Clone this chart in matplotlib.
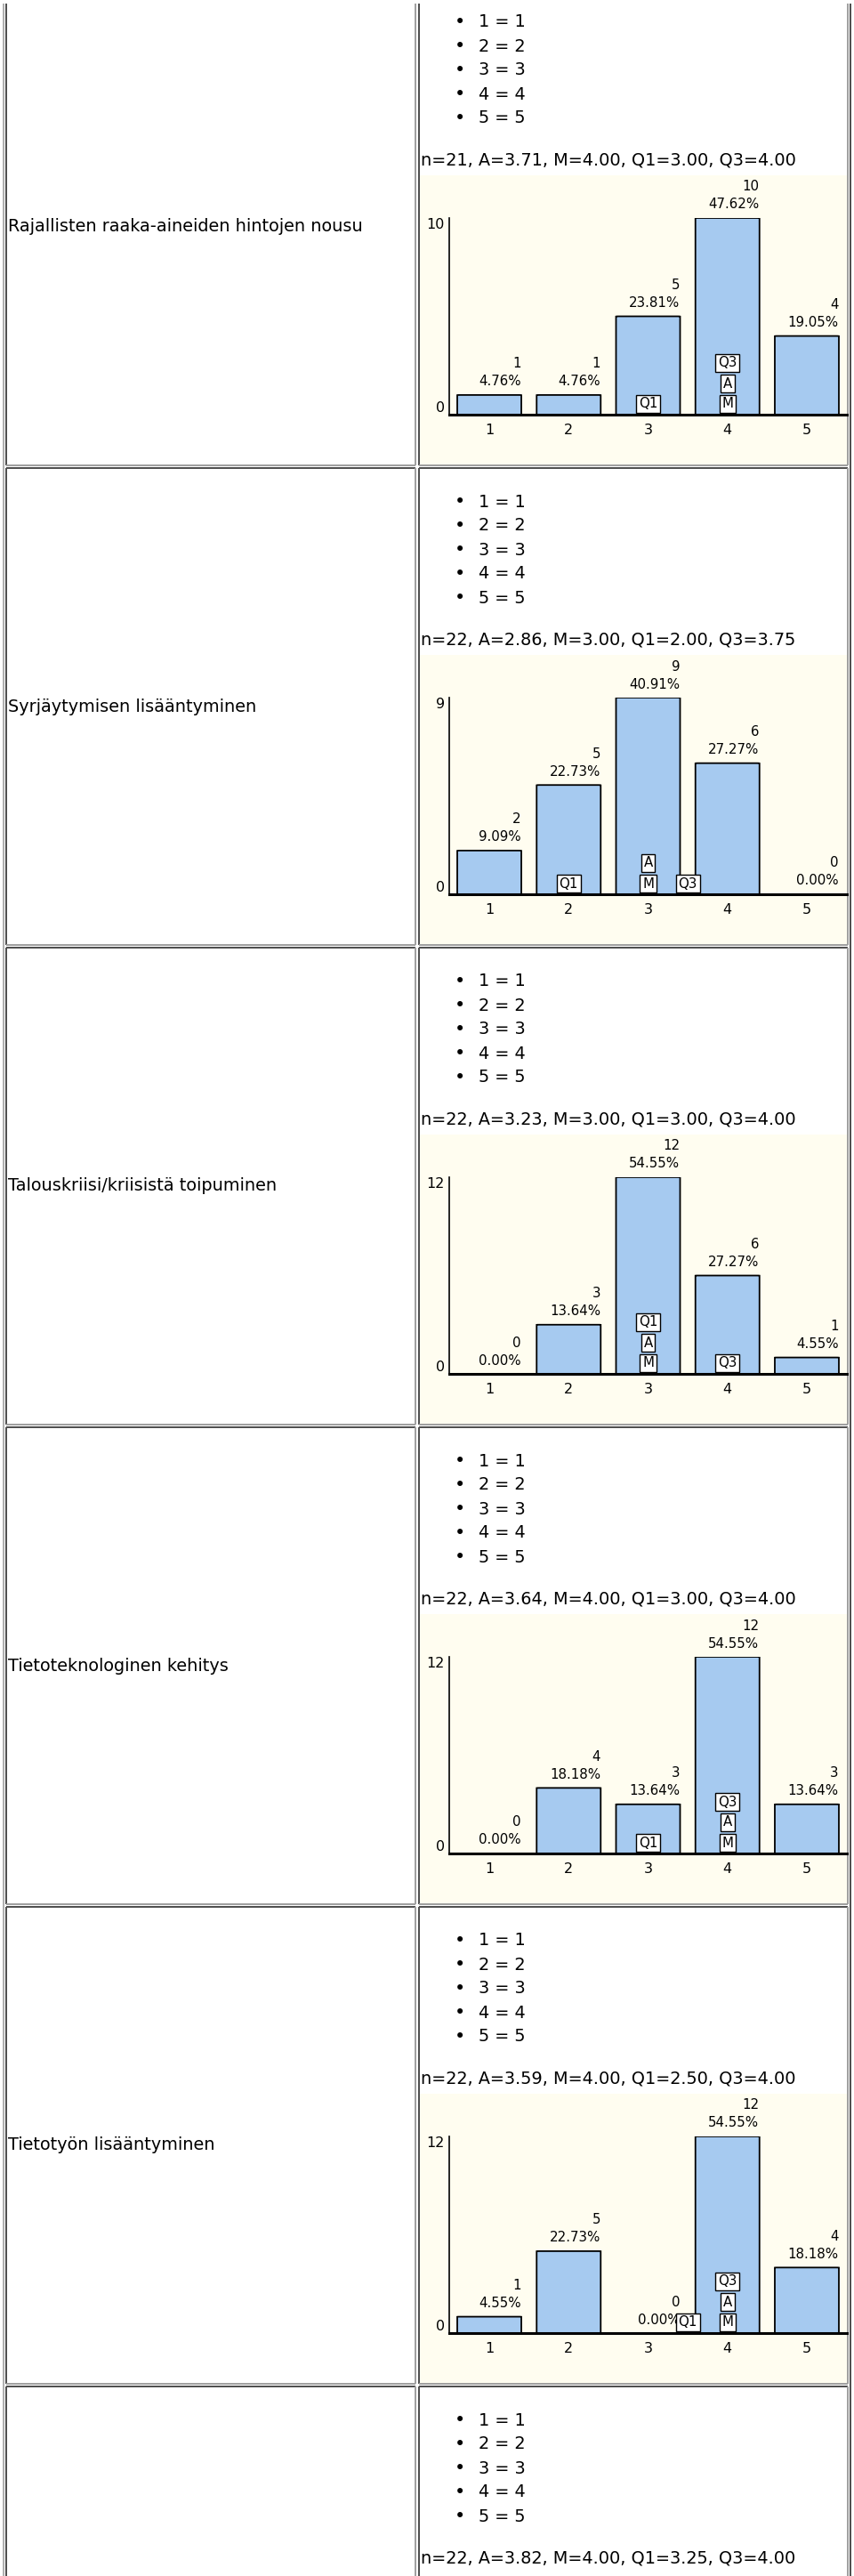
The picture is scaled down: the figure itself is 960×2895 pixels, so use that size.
import matplotlib
matplotlib.use("Agg")
import matplotlib.pyplot as plt
from matplotlib.patches import Rectangle, FancyBboxPatch

plt.rcParams['font.family'] = ['DejaVu Sans']

W, H, DPI = 960, 2895, 100

# ---------------- data ----------------
categories = [1, 2, 3, 4, 5]
legend_items = ["1 = 1", "2 = 2", "3 = 3", "4 = 4", "5 = 5"]

row_labels = [
    "Rajallisten raaka-aineiden hintojen nousu",
    "Syrjäytymisen lisääntyminen",
    "Talouskriisi/kriisistä toipuminen",
    "Tietoteknologinen kehitys",
    "Tietotyön lisääntyminen",
    "",
]

stats_texts = [
    "n=21, A=3.71, M=4.00, Q1=3.00, Q3=4.00",
    "n=22, A=2.86, M=3.00, Q1=2.00, Q3=3.75",
    "n=22, A=3.23, M=3.00, Q1=3.00, Q3=4.00",
    "n=22, A=3.64, M=4.00, Q1=3.00, Q3=4.00",
    "n=22, A=3.59, M=4.00, Q1=2.50, Q3=4.00",
    "n=22, A=3.82, M=4.00, Q1=3.25, Q3=4.00",
]

counts_1 = [1, 1, 5, 10, 4]
counts_2 = [2, 5, 9, 6, 0]
counts_3 = [0, 3, 12, 6, 1]
counts_4 = [0, 4, 3, 12, 3]
counts_5 = [1, 5, 0, 12, 4]

pct_1 = ["4.76%", "4.76%", "23.81%", "47.62%", "19.05%"]
pct_2 = ["9.09%", "22.73%", "40.91%", "27.27%", "0.00%"]
pct_3 = ["0.00%", "13.64%", "54.55%", "27.27%", "4.55%"]
pct_4 = ["0.00%", "18.18%", "13.64%", "54.55%", "13.64%"]
pct_5 = ["4.55%", "22.73%", "0.00%", "54.55%", "18.18%"]

# statistic markers (drawn bottom-up in this order when sharing a position)
marker_labels = ["M", "A", "Q1", "Q3"]
marker_pos_1 = [4, 4, 3, 4]
marker_pos_2 = [3, 3, 2, 3.5]
marker_pos_3 = [3, 3, 3, 4]
marker_pos_4 = [4, 4, 3, 4]
marker_pos_5 = [4, 4, 3.5, 4]

charts = [
    (counts_1, pct_1, marker_pos_1),
    (counts_2, pct_2, marker_pos_2),
    (counts_3, pct_3, marker_pos_3),
    (counts_4, pct_4, marker_pos_4),
    (counts_5, pct_5, marker_pos_5),
]

# ---------------- style ----------------
BAR_COLOR = "#a6caf0"
CREAM = "#fffdf0"
DARK = "#505050"
LIGHT = "#a0a0a0"
BODY_FS = 13.9
TICK_FS = 11.5
VAL_FS = 10.8
BOX_FS = 10.8

fig = plt.figure(figsize=(W / DPI, H / DPI), dpi=DPI)
fig.patch.set_facecolor("white")

bg = fig.add_axes([0, 0, 1, 1])
bg.set_xlim(0, W)
bg.set_ylim(H, 0)
bg.axis("off")

ROW_PITCH = 539
FIRST_TOP = 526 - ROW_PITCH
LX0, LX1 = 7, 467
RX0, RX1 = 471, 953
px = 2 * 72 / DPI  # 2 px line width in points

def hline(x0, x1, y, c):
    bg.plot([x0, x1], [y, y], color=c, lw=px, solid_capstyle="butt")

def vline(x, y0, y1, c):
    bg.plot([x, x], [y0, y1], color=c, lw=px, solid_capstyle="butt")

# outer table edges
vline(4, 4, H, "#b0b0b0")
vline(956, 4, H, DARK)

for r in range(6):
    T = FIRST_TOP + r * ROW_PITCH
    B = T + ROW_PITCH - 3.5
    if r < len(charts):
        bg.add_patch(Rectangle((RX0 + 1, T + 210), RX1 - RX0 - 2, B - T - 210,
                               facecolor=CREAM, edgecolor="none", zorder=0))
    for (x0, x1) in [(LX0, LX1), (RX0, RX1)]:
        yt = max(T, 4)
        hline(x0, x1, T, DARK)
        vline(x0, yt, min(B, H), DARK)
        hline(x0, x1, B, LIGHT)
        vline(x1, yt, min(B, H), LIGHT)
    if row_labels[r]:
        bg.text(9, T + 268, row_labels[r], ha="left", va="center", fontsize=BODY_FS)
    for i, item in enumerate(legend_items):
        y = T + 38 + 27 * i
        bg.text(517, y, "\u2022", ha="center", va="center", fontsize=BODY_FS + 1)
        bg.text(538, y, item, ha="left", va="center", fontsize=BODY_FS)
    bg.text(473, T + 193, stats_texts[r], ha="left", va="center", fontsize=BODY_FS)

# ---------------- bar charts ----------------
AX_X0, AX_X1 = 505.4, 951.6
X_SCALE = (AX_X1 - AX_X0) / 5.0  # pixels per category
for r, (counts, pcts, mpos) in enumerate(charts):
    T = FIRST_TOP + r * ROW_PITCH
    base = T + 479
    top = T + 258
    ax = fig.add_axes([AX_X0 / W, 1 - base / H, (AX_X1 - AX_X0) / W, (base - top) / H])
    ax.set_facecolor("none")
    ymax = max(counts)
    ax.set_xlim(0.5, 5.5)
    ax.set_ylim(0, ymax)
    bars = ax.bar(categories, counts, width=0.807, color=BAR_COLOR, edgecolor="black",
                  linewidth=1.3, zorder=2)
    # give the bars the slightly rounded corners of the original
    y_scale = (base - top) / ymax
    aspect = X_SCALE / y_scale
    for rect in bars.patches:
        if rect.get_height() <= 0:
            rect.set_visible(False)
            continue
        rect.set_visible(False)
        fb = FancyBboxPatch((rect.get_x(), rect.get_y()), rect.get_width(), rect.get_height(),
                            boxstyle="round,pad=0,rounding_size=%f" % (3.0 / X_SCALE),
                            mutation_aspect=1.0 / aspect,
                            facecolor=BAR_COLOR, edgecolor="black", linewidth=1.3, zorder=2)
        ax.add_patch(fb)
    for s in ("top", "right"):
        ax.spines[s].set_visible(False)
    ax.spines["left"].set_linewidth(1.2)
    ax.spines["bottom"].set_linewidth(2.2)
    ax.spines["bottom"].set_zorder(3)
    ax.set_xticks(categories)
    ax.set_xticklabels([str(c) for c in categories], fontsize=TICK_FS)
    ax.set_yticks([0, ymax])
    ax.set_yticklabels(["0", str(ymax)], fontsize=TICK_FS)
    ylabs = ax.get_yticklabels()
    ylabs[0].set_va("bottom")
    ylabs[1].set_va("top")
    ax.tick_params(axis="x", length=0, pad=7)
    ax.tick_params(axis="y", length=0, pad=4)

    for c, v, p in zip(categories, counts, pcts):
        ax.annotate(p, xy=(c + 0.40, v), xytext=(0, 15), textcoords="offset pixels",
                    ha="right", va="center", fontsize=VAL_FS, annotation_clip=False)
        ax.annotate(str(v), xy=(c + 0.40, v), xytext=(0, 35), textcoords="offset pixels",
                    ha="right", va="center", fontsize=VAL_FS, annotation_clip=False)

    stack = {}
    for lab, pos in zip(marker_labels, mpos):
        k = stack.get(pos, 0)
        stack[pos] = k + 1
        ax.annotate(lab, xy=(pos, 0), xytext=(0, 12 + 23 * k), textcoords="offset pixels",
                    ha="center", va="center", fontsize=BOX_FS, zorder=5,
                    annotation_clip=False,
                    bbox=dict(boxstyle="square,pad=0.18", fc="white", ec="black", lw=1.0))

fig.savefig("out.png", dpi=DPI, facecolor="white")
